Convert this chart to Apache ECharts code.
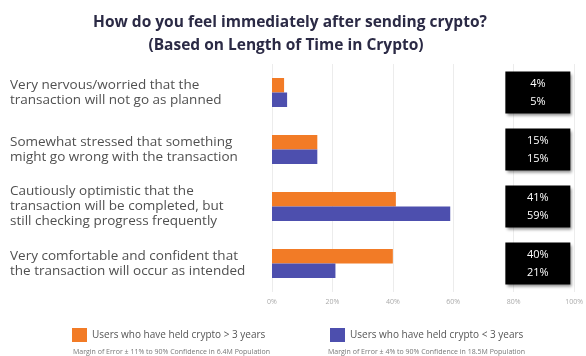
<!DOCTYPE html>
<html>
<head>
<meta charset="utf-8">
<script src="https://cdn.jsdelivr.net/npm/echarts@6/dist/echarts.min.js"></script>
<style>html,body{margin:0;padding:0;background:#fff;}#c{width:586px;height:356px;}</style>
</head>
<body>
<div id="c"></div>
<script>
const categories = [
  'Very nervous/worried that the\ntransaction will not go as planned',
  'Somewhat stressed that something\nmight go wrong with the transaction',
  'Cautiously optimistic that the\ntransaction will be completed, but\nstill checking progress frequently',
  'Very comfortable and confident that\nthe transaction will occur as intended'
];
const seriesNames = ['Users who have held crypto > 3 years', 'Users who have held crypto < 3 years'];
const over3Years = [4, 15, 41, 40];
const under3Years = [5, 15, 59, 21];
const xTicks = [0, 20, 40, 60, 80, 100];
const footnotes = [
  'Margin of Error \u00b1 11% to 90% Confidence in 6.4M Population',
  'Margin of Error \u00b1 4% to 90% Confidence in 18.5M Population'
];

const FONT = '"Open Sans", "Noto Sans", sans-serif';
const ORANGE = '#f27b26';
const BLUE = '#4d4fae';
const BOX_X = 88;

const chart = echarts.init(document.getElementById('c'), null, {renderer: 'canvas'});
chart.setOption({
  backgroundColor: '#fff',
  animation: false,
  textStyle: {fontFamily: FONT},
  title: [
    {text: 'How do you feel immediately after sending crypto?', left: 285, top: 10, textAlign: 'center',
     textStyle: {fontFamily: FONT, fontSize: 15.5, fontWeight: 'bold', color: '#2b2a45'}},
    {text: '(Based on Length of Time in Crypto)', left: 281, top: 33, textAlign: 'center',
     textStyle: {fontFamily: FONT, fontSize: 15.5, fontWeight: 'bold', color: '#2b2a45'}},
    {text: footnotes[0], left: 68, top: 343, textStyle: {fontFamily: FONT, fontSize: 7, fontWeight: 'normal', color: '#777'}},
    {text: footnotes[1], left: 323, top: 343, textStyle: {fontFamily: FONT, fontSize: 7, fontWeight: 'normal', color: '#777'}}
  ],
  legend: [
    {data: [seriesNames[0]], left: 67, top: 323, itemWidth: 15, itemHeight: 14, icon: 'rect', itemGap: 8,
     textStyle: {fontFamily: FONT, fontSize: 10, color: '#555'}},
    {data: [seriesNames[1]], left: 325, top: 323, itemWidth: 15, itemHeight: 14, icon: 'rect',
     textStyle: {fontFamily: FONT, fontSize: 10, color: '#555'}}
  ],
  grid: {left: 272, right: 9, top: 64, bottom: 64, containLabel: false},
  xAxis: {
    type: 'value', min: xTicks[0], max: xTicks[xTicks.length - 1], interval: 20,
    axisLine: {show: false}, axisTick: {show: false},
    splitLine: {show: true, lineStyle: {color: '#ececec', width: 1}},
    axisLabel: {formatter: v => v + '%', fontSize: 7, color: '#aaa', margin: 6, fontFamily: FONT}
  },
  yAxis: {
    type: 'category', data: categories, inverse: true,
    axisLine: {show: false}, axisTick: {show: false},
    axisLabel: {align: 'left', margin: 262, fontSize: 13.5, lineHeight: 15, color: '#505050', fontFamily: FONT}
  },
  series: [
    {name: seriesNames[0], type: 'bar', data: over3Years, barWidth: 14.5, barGap: '0%',
     itemStyle: {color: ORANGE}},
    {name: seriesNames[1], type: 'bar', data: under3Years, barWidth: 14.5, barGap: '0%',
     itemStyle: {color: BLUE}},
    {name: 'boxes', type: 'scatter', data: categories.map((c, i) => [BOX_X, i]),
     symbol: 'rect', symbolSize: [65, 42], z: 5,
     itemStyle: {color: '#000', opacity: 1, shadowBlur: 3, shadowColor: 'rgba(0,0,0,0.45)', shadowOffsetX: 2, shadowOffsetY: 2},
     emphasis: {disabled: true},
     label: {show: true, position: 'inside', color: '#fff', fontSize: 11, lineHeight: 18, fontFamily: FONT,
       formatter: p => over3Years[p.dataIndex] + '%\n' + under3Years[p.dataIndex] + '%'}}
  ]
});
</script>
</body>
</html>
